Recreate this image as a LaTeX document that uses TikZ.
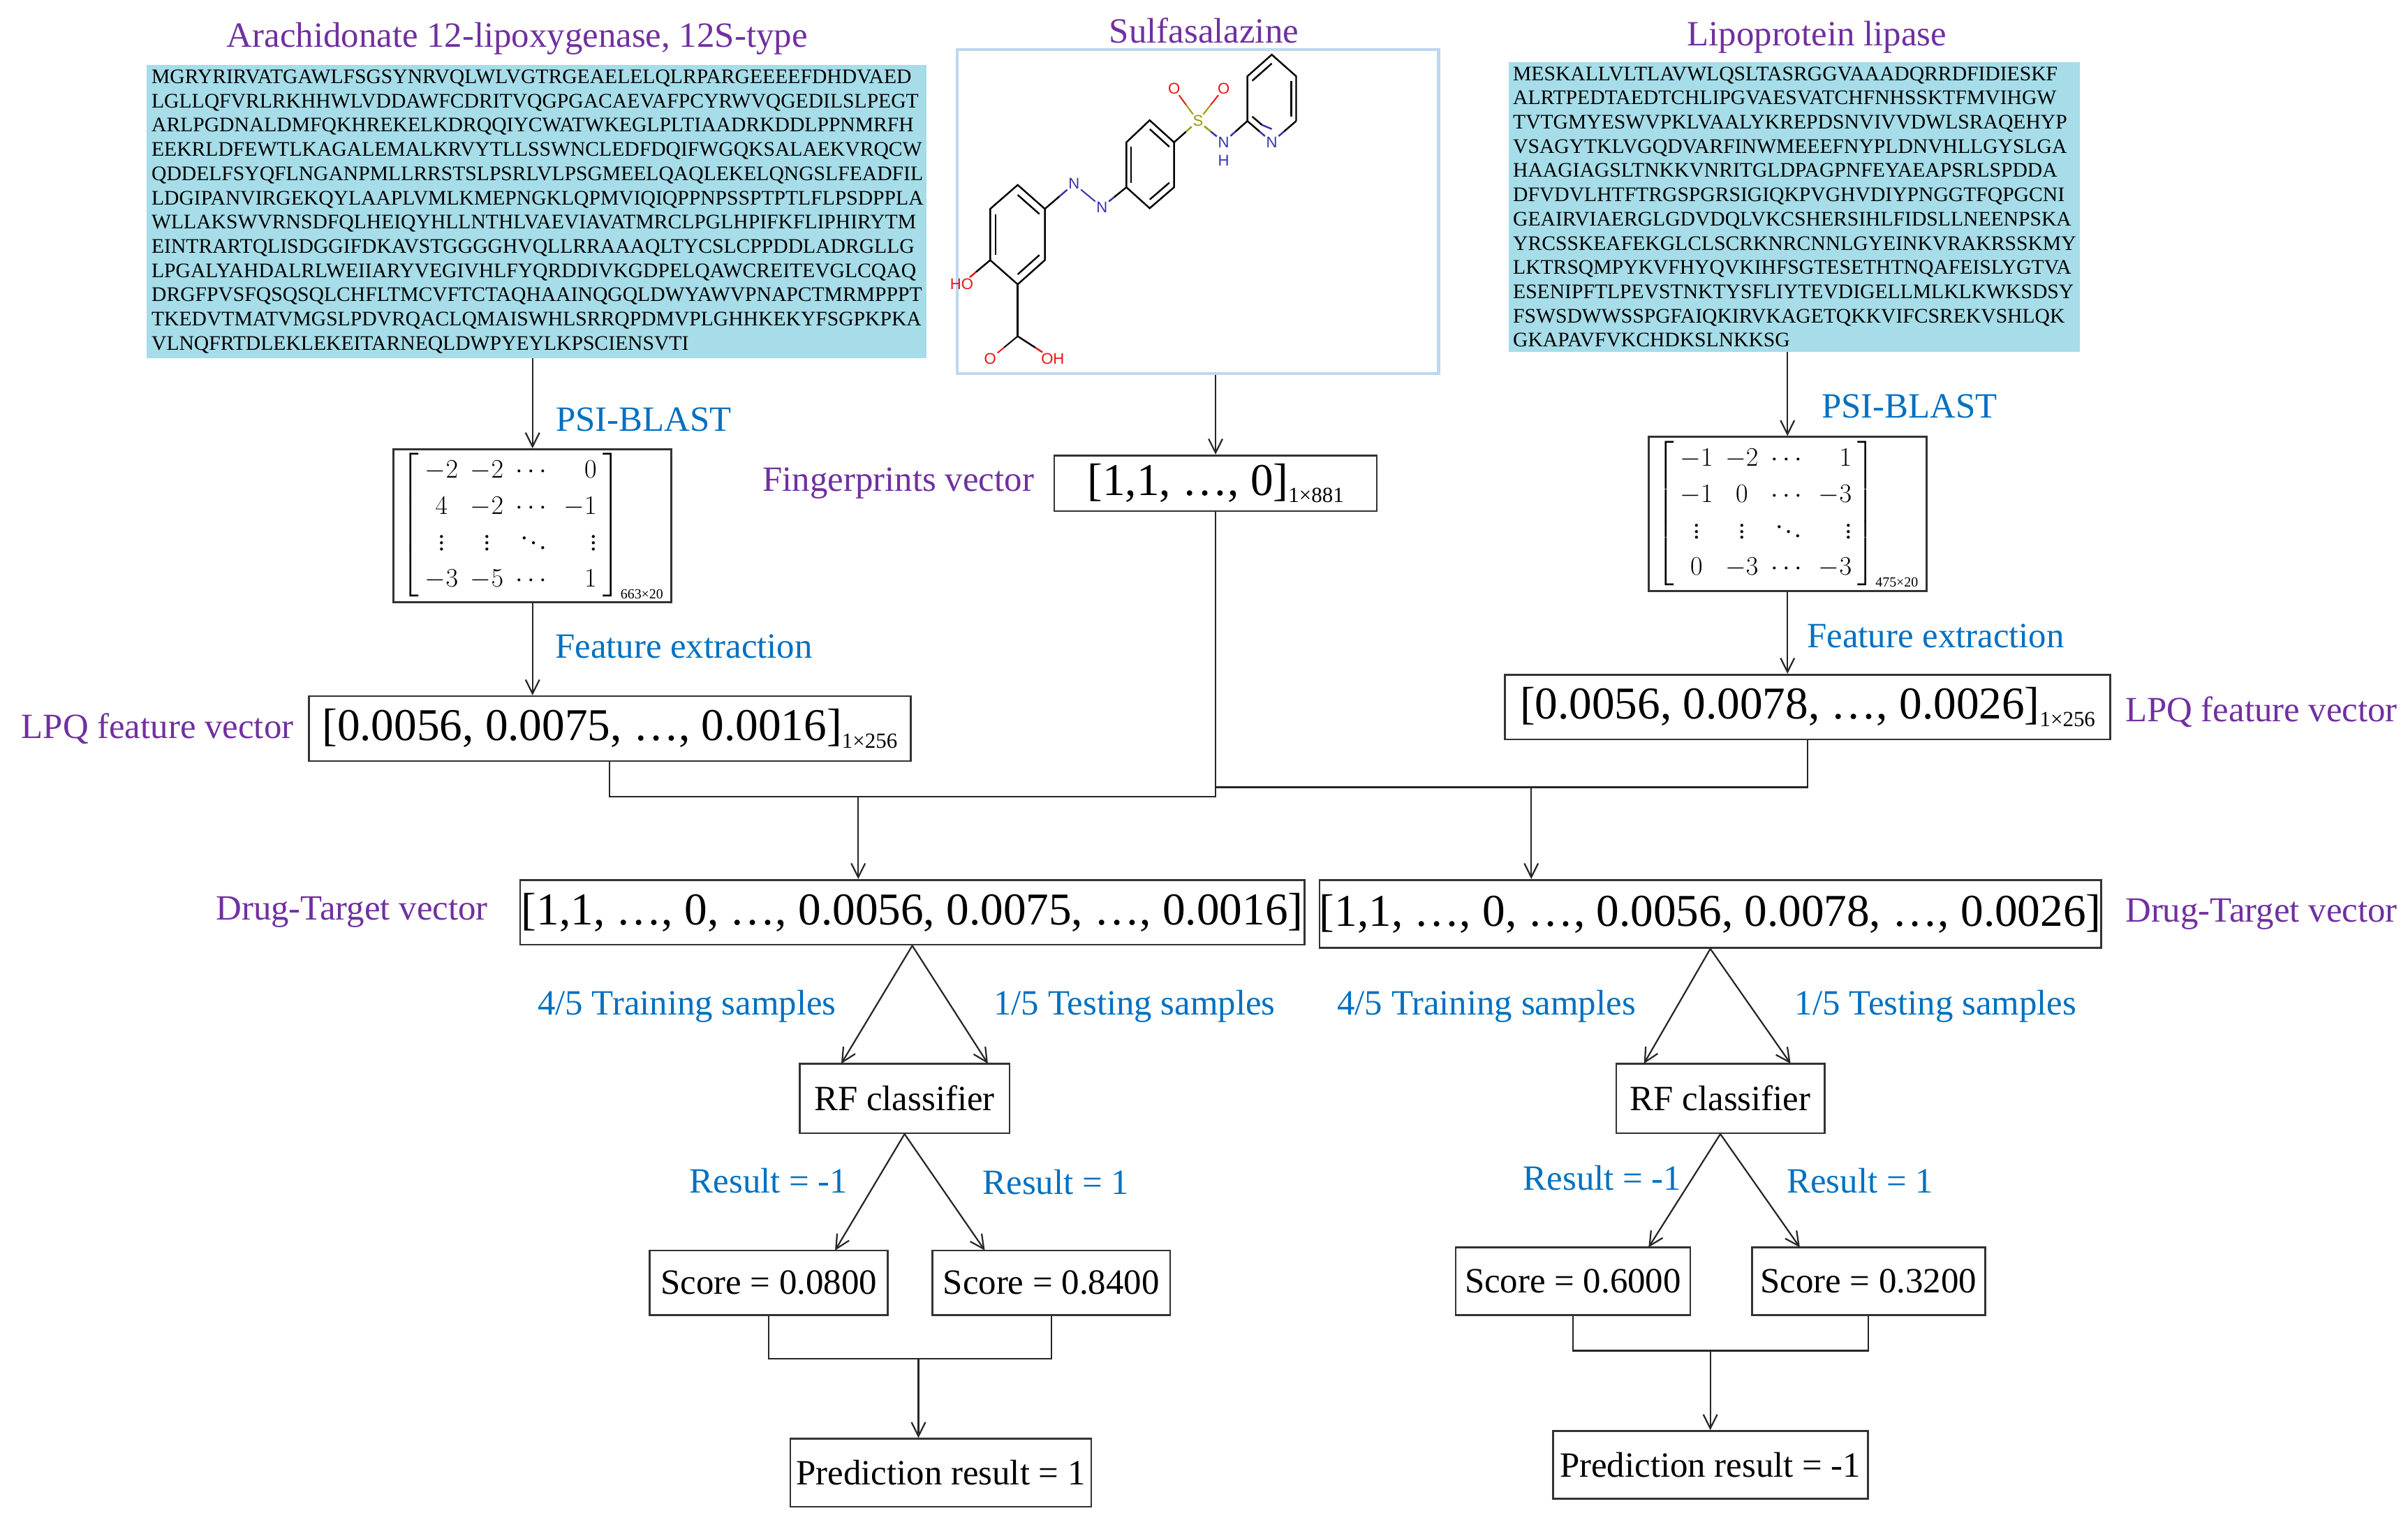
\documentclass[tikz,border=0pt]{standalone}
\usepackage{fontspec}
\usepackage{amsmath}
\setmainfont{Liberation Serif}
\newfontfamily\molf{Liberation Sans}
\usetikzlibrary{arrows.meta,calc}
\definecolor{pur}{HTML}{7030A0}
\definecolor{blu}{HTML}{0070C0}
\definecolor{seqc}{HTML}{A6DDE9}
\definecolor{molbox}{HTML}{BDD7EE}
\definecolor{nblue}{HTML}{3333AA}
\definecolor{sol}{HTML}{999900}
\definecolor{ored}{HTML}{EE1111}
\newcommand{\vsub}[1]{\raisebox{-0.35ex}{\fontsize{14}{14}\selectfont #1}}
\newcommand{\hb}[3]{\draw (#1) -- ($(#1)!.5!(#2)$); \draw[#3] ($(#1)!.5!(#2)$) -- (#2);}
\begin{document}
\begin{tikzpicture}[x=1pt,y=-1pt,
  box/.style={draw=black!80,line width=1.2pt,inner sep=0pt,font=\fontsize{23}{25}\selectfont},
  vec/.style={box,font=\fontsize{29.5}{31}\selectfont},
  lab/.style={font=\fontsize{23}{25}\selectfont},
  plab/.style={lab,text=pur},
  blab/.style={lab,text=blu},
  seq/.style={fill=seqc,anchor=north west,align=left,inner sep=3pt,font=\fontsize{13.4}{15.7}\selectfont},
  arr/.style={draw=black!85,line width=1pt,-{Straight Barb[length=9pt,width=9pt]}},
  ln/.style={draw=black!85,line width=1pt},
  atom/.style={inner sep=0.6pt,font=\molf\fontsize{10}{10}\selectfont},
  mb/.style={line width=1.1pt}]
\useasboundingbox (0,0) rectangle (1560,989);

% titles
\node[plab] (tL) at (335,25) {Arachidonate 12-lipoxygenase, 12S-type};
\node[plab] (tM) at (780,20) {Sulfasalazine};
\node[plab] (tR) at (1177,24) {Lipoprotein lipase};

% sequences
\node[seq,text width=499pt] (seqL) at (95,42) {MGRYRIRVATGAWLFSGSYNRVQLWLVGTRGEAELELQLRPARGEEEEFDHDVAED\\
LGLLQFVRLRKHHWLVDDAWFCDRITVQGPGACAEVAFPCYRWVQGEDILSLPEGT\\
ARLPGDNALDMFQKHREKELKDRQQIYCWATWKEGLPLTIAADRKDDLPPNMRFH\\
EEKRLDFEWTLKAGALEMALKRVYTLLSSWNCLEDFDQIFWGQKSALAEKVRQCW\\
QDDELFSYQFLNGANPMLLRRSTSLPSRLVLPSGMEELQAQLEKELQNGSLFEADFIL\\
LDGIPANVIRGEKQYLAAPLVMLKMEPNGKLQPMVIQIQPPNPSSPTPTLFLPSDPPLA\\
WLLAKSWVRNSDFQLHEIQYHLLNTHLVAEVIAVATMRCLPGLHPIFKFLIPHIRYTM\\
EINTRARTQLISDGGIFDKAVSTGGGGHVQLLRRAAAQLTYCSLCPPDDLADRGLLG\\
LPGALYAHDALRLWEIIARYVEGIVHLFYQRDDIVKGDPELQAWCREITEVGLCQAQ\\
DRGFPVSFQSQSQLCHFLTMCVFTCTAQHAAINQGQLDWYAWVPNAPCTMRMPPPT\\
TKEDVTMATVMGSLPDVRQACLQMAISWHLSRRQPDMVPLGHHKEKYFSGPKPKA\\
VLNQFRTDLEKLEKEITARNEQLDWPYEYLKPSCIENSVTI};
\node[seq,text width=364pt] (seqR) at (977,40) {MESKALLVLTLAVWLQSLTASRGGVAAADQRRDFIDIESKF\\
ALRTPEDTAEDTCHLIPGVAESVATCHFNHSSKTFMVIHGW\\
TVTGMYESWVPKLVAALYKREPDSNVIVVDWLSRAQEHYP\\
VSAGYTKLVGQDVARFINWMEEEFNYPLDNVHLLGYSLGA\\
HAAGIAGSLTNKKVNRITGLDPAGPNFEYAEAPSRLSPDDA\\
DFVDVLHTFTRGSPGRSIGIQKPVGHVDIYPNGGTFQPGCNI\\
GEAIRVIAERGLGDVDQLVKCSHERSIHLFIDSLLNEENPSKA\\
YRCSSKEAFEKGLCLSCRKNRCNNLGYEINKVRAKRSSKMY\\
LKTRSQMPYKVFHYQVKIHFSGTESETHTNQAFEISLYGTVA\\
ESENIPFTLPEVSTNKTYSFLIYTEVDIGELLMLKLKWKSDSY\\
FSWSDWWSSPGFAIQKIRVKAGETQKKVIFCSREKVSHLQK\\
GKAPAVFVKCHDKSLNKKSG};

% molecule box
\node[draw=molbox,line width=2pt,minimum width=312pt,minimum height=210pt,inner sep=0pt] (mol) at (776,137) {};
% molecule
\coordinate (a1) at (659.3,119.8); \coordinate (a2) at (676.9,135.3);
\coordinate (a3) at (676.9,168.5); \coordinate (a4) at (659.3,184.2);
\coordinate (a5) at (641.5,168.5); \coordinate (a6) at (641.5,135.3);
\coordinate (cA) at (659.2,152);
\coordinate (b1) at (744.8,77.9); \coordinate (b2) at (760.6,92.2);
\coordinate (b3) at (760.6,121.3); \coordinate (b4) at (744.8,134.9);
\coordinate (b5) at (729.7,121.3); \coordinate (b6) at (729.7,92.2);
\coordinate (cB) at (745.2,106.6);
\coordinate (p1) at (808.1,78.4); \coordinate (p2) at (808.1,49.4);
\coordinate (p3) at (823.9,35.4); \coordinate (p4) at (839.7,49.4);
\coordinate (p5) at (839.7,78.4); \coordinate (pNc) at (823.9,92);
\coordinate (cP) at (823.9,63.9);
\coordinate (c7) at (659.3,217.8);
\node[atom,text=ored] (ho) at (623,184) {HO};
\node[atom,text=ored] (o1) at (641.5,232.5) {O};
\node[atom,text=ored] (oh) at (682,232.5) {OH};
\node[atom,text=nblue] (n1) at (695.8,119.1) {N};
\node[atom,text=nblue] (n2) at (713.9,134.1) {N};
\node[atom,text=sol] (s) at (776.1,78.4) {S};
\node[atom,text=ored] (os1) at (760.6,57.3) {O};
\node[atom,text=ored] (os2) at (792.7,57.3) {O};
\node[atom,text=nblue] (nh) at (792.7,92) {N};
\node[atom,text=nblue] (hh) at (792.7,103.8) {H};
\node[atom,text=nblue] (pn) at (pNc) {N};
\begin{scope}[mb]
\draw (a1)--(a2)--(a3)--(a4)--(a5)--(a6)--cycle;
\draw (b1)--(b2)--(b3)--(b4)--(b5)--(b6)--cycle;
\draw (p1)--(p2)--(p3)--(p4)--(p5);
\foreach \u/\v/\c in {a1/a2/cA,a3/a4/cA,a5/a6/cA,b1/b2/cB,b3/b4/cB,b5/b6/cB,p2/p3/cP,p4/p5/cP}
  \draw ($(\u)!.2!(\c)$) -- ($(\v)!.2!(\c)$);
\draw ($(p1)!.2!(cP)$) -- ($(p1)!.2!(cP)!.5!($(pNc)!.2!(cP)$)$);
\draw[nblue] ($(p1)!.2!(cP)!.5!($(pNc)!.2!(cP)$)$) -- ($(pNc)!.3!(cP)$);
\hb{p5}{pn}{nblue}
\hb{p1}{pn}{nblue}
\draw (a4) -- (c7);
\hb{a5}{ho}{ored}
\hb{c7}{oh}{ored}
\begin{scope}[double distance=2.2pt,line width=0.9pt]
\draw (c7) -- ($(c7)!.5!(o1)$); \draw[ored] ($(c7)!.5!(o1)$) -- (o1);
\draw[nblue] (n1) -- (n2);
\draw[sol] (s) -- ($(s)!.5!(os1)$); \draw[ored] ($(s)!.5!(os1)$) -- (os1);
\draw[sol] (s) -- ($(s)!.5!(os2)$); \draw[ored] ($(s)!.5!(os2)$) -- (os2);
\end{scope}
\hb{a2}{n1}{nblue}
\hb{b5}{n2}{nblue}
\hb{b2}{s}{sol}
\draw[sol] (s) -- ($(s)!.5!(nh)$); \draw[nblue] ($(s)!.5!(nh)$) -- (nh);
\hb{p1}{nh}{nblue}
\end{scope}

% matrices
\node[box,minimum width=180pt,minimum height=99pt] (matL) at (345,340.5) {};
\node at (matL) {\fontsize{16.5}{23.5}\selectfont\setlength{\arraycolsep}{4pt}$\left[\begin{array}{cccr}-2&-2&\cdots&0\\4&-2&\cdots&-1\\\vdots&\vdots&\ddots&\vdots\\-3&-5&\cdots&1\end{array}\right]_{\mbox{\fontsize{9}{9}\selectfont 663×20}}$};
\node[box,minimum width=180pt,minimum height=100pt] (matR) at (1158,333) {};
\node at (matR) {\fontsize{16.5}{23.5}\selectfont\setlength{\arraycolsep}{4pt}$\left[\begin{array}{cccr}-1&-2&\cdots&1\\-1&0&\cdots&-3\\\vdots&\vdots&\ddots&\vdots\\0&-3&\cdots&-3\end{array}\right]_{\mbox{\fontsize{9}{9}\selectfont 475×20}}$};

% fingerprint & LPQ vectors
\node[vec,minimum width=209pt,minimum height=36pt] (fp) at (787.5,313) {[1,1, …, 0]\vsub{1×881}};
\node[vec,minimum width=390pt,minimum height=42pt] (lpqL) at (395,472) {[0.0056, 0.0075, …, 0.0016]\vsub{1×256}};
\node[vec,minimum width=392pt,minimum height=42pt] (lpqR) at (1171,458) {[0.0056, 0.0078, …, 0.0026]\vsub{1×256}};

% drug-target vectors
\node[vec,minimum width=508pt,minimum height=42pt] (dtL) at (591,591) {[1,1, …, 0, …, 0.0056, 0.0075, …, 0.0016]};
\node[vec,minimum width=506pt,minimum height=44pt] (dtR) at (1108,592) {[1,1, …, 0, …, 0.0056, 0.0078, …, 0.0026]};

% RF classifiers
\node[box,minimum width=136pt,minimum height=45pt] (rfL) at (586,711.5) {RF classifier};
\node[box,minimum width=135pt,minimum height=45pt] (rfR) at (1114.5,711.5) {RF classifier};

% scores
\node[box,minimum width=154pt,minimum height=42pt] (s1) at (498,831) {Score = 0.0800};
\node[box,minimum width=154pt,minimum height=42pt] (s2) at (681,831) {Score = 0.8400};
\node[box,minimum width=152pt,minimum height=44pt] (s3) at (1019,830) {Score = 0.6000};
\node[box,minimum width=151pt,minimum height=44pt] (s4) at (1210.5,830) {Score = 0.3200};

% predictions
\node[box,minimum width=195pt,minimum height=44pt] (prL) at (609.5,954) {Prediction result = 1};
\node[box,minimum width=204pt,minimum height=44pt] (prR) at (1108,949) {Prediction result = -1};

% labels
\node[blab] at (417,272) {PSI-BLAST};
\node[blab] at (1237,263) {PSI-BLAST};
\node[blab] at (443,419) {Feature extraction};
\node[blab] at (1254,412) {Feature extraction};
\node[plab] at (582,313) {Fingerprints vector};
\node[plab] at (102,472) {LPQ feature vector};
\node[plab] at (1465,461) {LPQ feature vector};
\node[plab] at (228,591) {Drug-Target vector};
\node[plab] at (1465,592) {Drug-Target vector};
\node[blab] at (445,652) {4/5 Training samples};
\node[blab] at (735,652) {1/5 Testing samples};
\node[blab] at (963,652) {4/5 Training samples};
\node[blab] at (1254,652) {1/5 Testing samples};
\node[blab] at (498,765) {Result = -1};
\node[blab] at (684,766) {Result = 1};
\node[blab] at (1038,763) {Result = -1};
\node[blab] at (1205,765) {Result = 1};

% connectors
\draw[arr] (seqL.south -| matL.north) -- (matL.north);
\draw[arr] (seqR.south -| matR.north) -- (matR.north);
\draw[arr] (mol.south -| fp.north) -- (fp.north);
\draw[arr] (matL.south) -- (matL.south |- lpqL.north);
\draw[arr] (matR.south) -- (matR.south |- lpqR.north);
\coordinate (jL) at (556,516);
\coordinate (jR) at (992,510);
\draw[ln] (lpqL.south) |- (jL) -| (fp.south);
\draw[ln] (lpqR.south) |- (jR) -| (fp.south);
\draw[arr] (jL) -- (jL |- dtL.north);
\draw[arr] (jR) -- (jR |- dtR.north);
\coordinate (tL1) at (545,689); \coordinate (tL2) at (640,689);
\draw[arr] (dtL.south) -- (tL1);
\draw[arr] (dtL.south) -- (tL2);
\coordinate (tR1) at (1065,689); \coordinate (tR2) at (1160,689);
\draw[arr] (dtR.south) -- (tR1);
\draw[arr] (dtR.south) -- (tR2);
\coordinate (rL1) at (541,810); \coordinate (rL2) at (638,810);
\draw[arr] (rfL.south) -- (rL1);
\draw[arr] (rfL.south) -- (rL2);
\coordinate (rR1) at (1068,808); \coordinate (rR2) at (1166,808);
\draw[arr] (rfR.south) -- (rR1);
\draw[arr] (rfR.south) -- (rR2);
\coordinate (mL) at (595,880);
\draw[ln] (s1.south) |- (mL) -| (s2.south);
\draw[arr] (mL) -- (mL |- prL.north);
\coordinate (mR) at (1108,875);
\draw[ln] (s3.south) |- (mR) -| (s4.south);
\draw[arr] (mR) -- (prR.north);
\end{tikzpicture}
\end{document}
